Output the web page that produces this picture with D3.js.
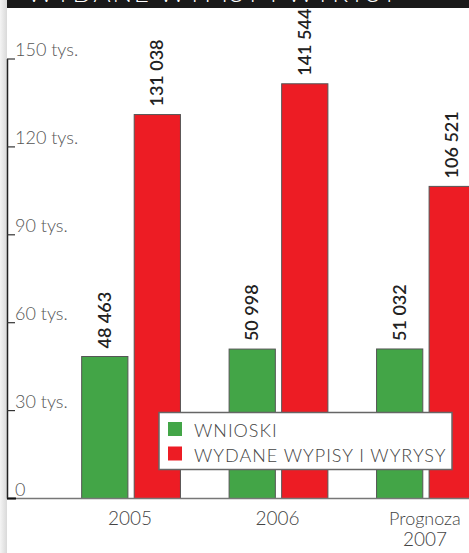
<!DOCTYPE html>
<html>
<head>
<meta charset="utf-8">
<script src="https://cdn.jsdelivr.net/npm/d3@7"></script>
<style>
  html, body { margin: 0; padding: 0; background: #fff; }
  svg { display: block; }
  text { font-family: "Lato", "Open Sans", sans-serif; }
</style>
</head>
<body>
<svg id="chart"></svg>
<script>
// *** Data ***
var years = ["2005", "2006", "2007"];
var yearLabels = [["2005"], ["2006"], ["Prognoza", "2007"]];
var seriesNames = ["WNIOSKI", "WYDANE WYPISY I WYRYSY"];
var wnioski = [48463, 50998, 51032];
var wydane = [131038, 141544, 106521];
var yTicks = [0, 30000, 60000, 90000, 120000, 150000];
var yTickLabels = ["0", "30 tys.", "60 tys.", "90 tys.", "120 tys.", "150 tys."];
var colors = ["#43a547", "#ed1c24"];

var width = 469, height = 553;
var svg = d3.select("#chart").attr("width", width).attr("height", height);

// left grey shadow strip
var grad = svg.append("defs").append("linearGradient").attr("id", "shade")
    .attr("x1", "0%").attr("x2", "100%");
grad.append("stop").attr("offset", "0%").attr("stop-color", "#f4f4f4");
grad.append("stop").attr("offset", "100%").attr("stop-color", "#d9d9d9");
svg.append("rect").attr("x", 0).attr("y", 0).attr("width", 7).attr("height", height).attr("fill", "url(#shade)");

// title band (cut off at top)
svg.append("rect").attr("x", 7).attr("y", 0).attr("width", width - 7).attr("height", 8).attr("fill", "#1a1a1a");
svg.append("text").attr("x", 27).attr("y", 1.5)
    .attr("fill", "#fff").attr("font-size", 26).attr("font-weight", 300)
    .attr("textLength", 370)
    .text("WYDANE WYPISY I WYRYSY");

// *** Scales ***
var y = d3.scaleLinear().domain([0, 150000]).range([498.5, 59]);
var x0 = d3.scaleBand().domain(years).range([33, 524]).paddingInner(0.33).paddingOuter(0.33);
var x1 = d3.scaleBand().domain([0, 1]).range([0, x0.bandwidth()]).paddingInner(0.12).paddingOuter(0);

// y axis
var yAxis = svg.append("g");
yAxis.append("line").attr("x1", 7.5).attr("x2", 7.5).attr("y1", y(150000)).attr("y2", y(0))
    .attr("stroke", "#222").attr("stroke-width", 1.5);
yAxis.selectAll(".tick").data(yTicks).enter().append("line")
    .attr("x1", 7).attr("x2", 15)
    .attr("y1", function (d) { return y(d); }).attr("y2", function (d) { return y(d); })
    .attr("stroke", "#333").attr("stroke-width", 1.2);
yAxis.selectAll(".lbl").data(yTicks).enter().append("text")
    .attr("x", 15)
    .attr("y", function (d) { return y(d) - 3; })
    .attr("fill", "#555").attr("font-size", 18).attr("font-weight", 300)
    .text(function (d, i) { return yTickLabels[i]; });

// *** Bars ***
var groups = svg.selectAll(".grp").data(years).enter().append("g")
    .attr("transform", function (d) { return "translate(" + x0(d) + ",0)"; });

groups.each(function (yr, i) {
    var g = d3.select(this);
    var vals = [wnioski[i], wydane[i]];
    vals.forEach(function (v, s) {
        g.append("rect")
            .attr("x", x1(s))
            .attr("y", y(v))
            .attr("width", x1.bandwidth())
            .attr("height", y(0) - y(v))
            .attr("fill", colors[s])
            .attr("stroke", "#555").attr("stroke-width", 1);
        var cx = x1(s) + x1.bandwidth() / 2 + 6;
        var cy = y(v) - 8;
        g.append("text")
            .attr("transform", "translate(" + cx + "," + cy + ") rotate(-90)")
            .attr("fill", "#222").attr("font-size", 18).attr("font-weight", 600)
            .text(d3.format(",")(v).replace(",", " "));
    });
});

// x axis baseline
svg.append("line").attr("x1", 7).attr("x2", width).attr("y1", y(0)).attr("y2", y(0))
    .attr("stroke", "#777").attr("stroke-width", 1.5);
svg.append("line").attr("x1", 7).attr("x2", 16).attr("y1", y(0)).attr("y2", y(0))
    .attr("stroke", "#111").attr("stroke-width", 2);

// x labels (one text per line)
years.forEach(function (d, i) {
    var cx = x0(d) + x0.bandwidth() / 2 - 1;
    yearLabels[i].forEach(function (line, k) {
        svg.append("text")
            .attr("text-anchor", "middle")
            .attr("x", cx)
            .attr("y", 525 + k * 21)
            .attr("fill", "#444").attr("font-size", k === 0 && yearLabels[i].length > 1 ? 18 : 19)
            .attr("font-weight", 300)
            .text(line);
    });
});

// *** Legend ***
var legend = svg.append("g");
legend.append("rect").attr("x", 159).attr("y", 412.5).attr("width", 293).attr("height", 57)
    .attr("fill", "#fff").attr("stroke", "#666").attr("stroke-width", 1.5);
seriesNames.forEach(function (name, i) {
    legend.append("rect").attr("x", 168).attr("y", 422 + i * 24.5).attr("width", 14).attr("height", 14)
        .attr("fill", colors[i]);
    legend.append("text").attr("x", 194).attr("y", 437 + i * 24.5)
        .attr("fill", "#444").attr("font-size", 18).attr("font-weight", 300)
        .attr("letter-spacing", 1)
        .text(name);
});
</script>
</body>
</html>
